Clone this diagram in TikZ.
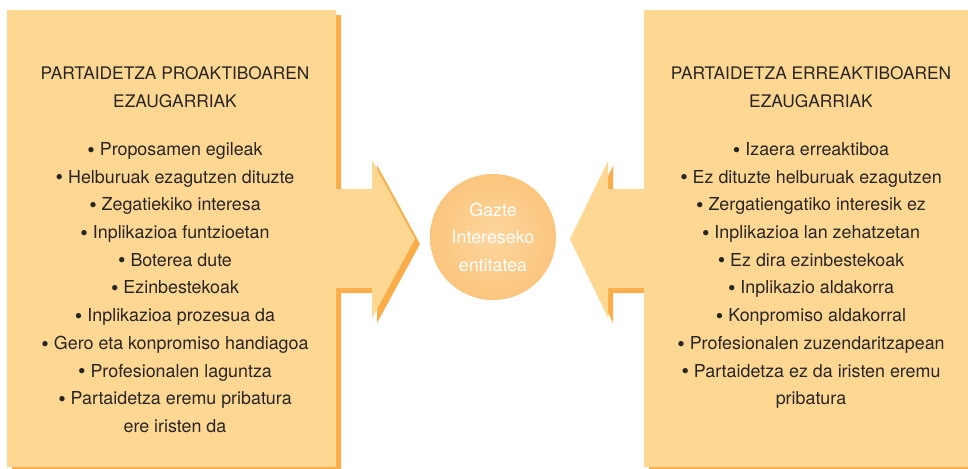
\documentclass[tikz,border=0pt]{standalone}
\usepackage{fontspec}
\setmainfont{TeX Gyre Heros}
\usetikzlibrary{positioning}

\definecolor{blockfill}{RGB}{254,216,146}
\definecolor{blockshade}{RGB}{250,173,72}
\definecolor{hubin}{RGB}{253,214,158}
\definecolor{hubout}{RGB}{248,180,92}
\definecolor{inktext}{RGB}{40,36,37}
\pgfdeclareradialshading{hubglow}{\pgfpoint{0bp}{0bp}}{color(0bp)=(hubin); color(50bp)=(hubout); color(100bp)=(hubout)}
\newcommand{\listdot}{{\fontsize{16}{16}\selectfont\raisebox{-0.08em}{•}}}

\tikzset{
  blockface/.style={fill=blockfill},
  blockshadow/.style={fill=blockshade},
  headtext/.style={anchor=north, inner sep=0pt, align=center, text=inktext, font=\fontsize{13}{20.8}\selectfont},
  listtext/.style={headtext, font=\fontsize{13.4}{20.8}\selectfont},
  hubnode/.style={circle, inner sep=0pt, minimum size=94.5pt, shading=hubglow, text=white, align=center, font=\fontsize{13.4}{20.6}\selectfont}
}

\begin{document}
\begin{tikzpicture}[x=0.75pt,y=0.75pt,yscale=-1,xscale=1]
\useasboundingbox (0,0) rectangle (968,468);
\clip (0,0) rectangle (968,468);

%Block arrow left: shadow
\path [blockshadow, shift={(5,5)}] (7,10) -- (336,10) -- (336,189) -- (372,189) -- (372,160) -- (415,239) -- (372,318) -- (372,288) -- (336,288) -- (336,467) -- (7,467) -- cycle ;
%Block arrow left
\path [blockface] (7,10) -- (336,10) -- (336,189) -- (372,189) -- (372,160) -- (415,239) -- (372,318) -- (372,288) -- (336,288) -- (336,467) -- (7,467) -- cycle ;
%Block arrow right: shadow
\path [blockshadow, shift={(5,5)}] (968,10) -- (644,10) -- (644,189) -- (608,189) -- (608,161) -- (570,239) -- (608,318) -- (608,288) -- (644,288) -- (644,467) -- (968,467) -- cycle ;
%Block arrow right
\path [blockface] (968,10) -- (644,10) -- (644,189) -- (608,189) -- (608,161) -- (570,239) -- (608,318) -- (608,288) -- (644,288) -- (644,467) -- (968,467) -- cycle ;

% Text Node
\node [headtext] (lhead) at (175,66.5) {PARTAIDETZA PROAKTIBOAREN\\EZAUGARRIAK};
% Text Node
\node [listtext] (llist) at (175,142) {\listdot{} Proposamen egileak\\\listdot{} Helburuak ezagutzen dituzte\\\listdot{} Zegatiekiko interesa\\\listdot{} Inplikazioa funtzioetan\\\listdot{} Boterea dute\\\listdot{} Ezinbestekoak\\\listdot{} Inplikazioa prozesua da\\\listdot{} Gero eta konpromiso handiagoa\\\listdot{} Profesionalen laguntza\\\listdot{} Partaidetza eremu pribatura\\ere iristen da};
% Text Node
\node [headtext] (rhead) at (811,66.5) {PARTAIDETZA ERREAKTIBOAREN\\EZAUGARRIAK};
% Text Node
\node [listtext] (rlist) at (811,142) {\listdot{} Izaera erreaktiboa\\\listdot{} Ez dituzte helburuak ezagutzen\\\listdot{} Zergatiengatiko interesik ez\\\listdot{} Inplikazioa lan zehatzetan\\\listdot{} Ez dira ezinbestekoak\\\listdot{} Inplikazio aldakorra\\\listdot{} Konpromiso aldakorral\\\listdot{} Profesionalen zuzendaritzapean\\\listdot{} Partaidetza ez da iristen eremu\\pribatura};

%Flowchart: Connector
\node [hubnode] (hub) at (493,237) {Gazte\\Intereseko\\entitatea};

\end{tikzpicture}
\end{document}
